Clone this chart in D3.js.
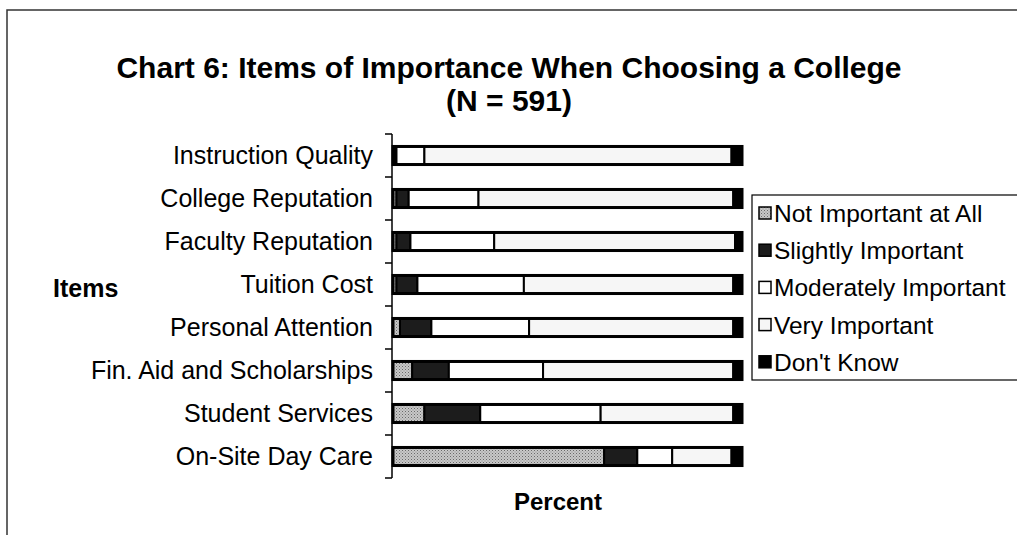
<!DOCTYPE html>
<html>
<head>
<meta charset="utf-8">
<script src="https://cdn.jsdelivr.net/npm/d3@7"></script>
<style>
  body { margin: 0; background: #fff; }
  svg { font-family: "Liberation Sans", Arial, sans-serif; }
</style>
</head>
<body>
<div id="chart"></div>
<script>
// values (percent of respondents)
var categories = ["Instruction Quality", "College Reputation", "Faculty Reputation", "Tuition Cost",
    "Personal Attention", "Fin. Aid and Scholarships", "Student Services", "On-Site Day Care"];
var seriesNames = ["Not Important at All", "Slightly Important", "Moderately Important", "Very Important", "Don't Know"];
var notImportant = [0.5, 1, 1, 1, 2, 5.5, 9, 60.5];
var slightlyImportant = [0.5, 3.5, 4, 6, 9, 10.5, 16, 9.5];
var moderatelyImportant = [8, 20, 24, 30.5, 28, 27, 34.5, 10];
var veryImportant = [88, 73, 69, 60, 58.5, 54.5, 38, 17];
var dontKnow = [3, 2.5, 2, 2.5, 2.5, 2.5, 2.5, 3];

var width = 1017, height = 535;
var keys = ["ni", "si", "mi", "vi", "dk"];
var fills = {ni: "url(#dots)", si: "#1c1c1c", mi: "#ffffff", vi: "#f6f6f6", dk: "#000000"};

var rows = categories.map(function(c, i) {
    return {cat: c, ni: notImportant[i], si: slightlyImportant[i], mi: moderatelyImportant[i],
        vi: veryImportant[i], dk: dontKnow[i]};
});

var svg = d3.select("#chart").append("svg")
    .attr("width", width)
    .attr("height", height);

// dotted grey pattern like the scan
var defs = svg.append("defs");
var pat = defs.append("pattern")
    .attr("id", "dots")
    .attr("width", 3).attr("height", 3)
    .attr("patternUnits", "userSpaceOnUse");
pat.append("rect").attr("width", 3).attr("height", 3).attr("fill", "#c8c8c8");
pat.append("rect").attr("width", 1).attr("height", 1).attr("fill", "#6a6a6a");
pat.append("rect").attr("x", 1.5).attr("y", 1.5).attr("width", 1).attr("height", 1).attr("fill", "#8a8a8a");

// outer frame (top and left edges only visible)
svg.append("path")
    .attr("d", "M7,535 V10 H1017")
    .attr("fill", "none")
    .attr("stroke", "#333")
    .attr("stroke-width", 1.5);

// title
svg.append("text")
    .attr("x", 509).attr("y", 78)
    .attr("text-anchor", "middle")
    .attr("font-size", 30).attr("font-weight", "bold")
    .text("Chart 6: Items of Importance When Choosing a College");
svg.append("text")
    .attr("x", 509).attr("y", 111)
    .attr("text-anchor", "middle")
    .attr("font-size", 30).attr("font-weight", "bold")
    .text("(N = 591)");

var x = d3.scaleLinear().domain([0, 100]).range([393, 742]);
var y = d3.scaleBand().domain(categories).range([134, 478])
    .paddingInner(0.58).paddingOuter(0.29);

var stacked = d3.stack().keys(keys)(rows);

var layers = svg.append("g").attr("class", "bars")
    .selectAll("g")
    .data(stacked)
    .enter().append("g")
    .attr("fill", function(d) { return fills[d.key]; });

layers.selectAll("rect")
    .data(function(d) { return d; })
    .enter().append("rect")
    .attr("x", function(d) { return x(d[0]); })
    .attr("y", function(d) { return y(d.data.cat); })
    .attr("width", function(d) { return x(d[1]) - x(d[0]); })
    .attr("height", y.bandwidth())
    .attr("stroke", "#000")
    .attr("stroke-width", 2);

// outline round each full bar
svg.append("g").selectAll("rect")
    .data(rows)
    .enter().append("rect")
    .attr("x", x(0))
    .attr("y", function(d) { return y(d.cat); })
    .attr("width", x(100) - x(0))
    .attr("height", y.bandwidth())
    .attr("fill", "none")
    .attr("stroke", "#000")
    .attr("stroke-width", 3);

// category axis
var yAxis = svg.append("g")
    .attr("transform", "translate(392,0)")
    .call(d3.axisLeft(y).tickSize(0).tickPadding(19));
yAxis.select(".domain").remove();
yAxis.selectAll("text")
    .attr("font-size", 25)
    .attr("font-family", "Liberation Sans, Arial, sans-serif")
    .attr("fill", "#000");

var axisG = svg.append("g").attr("stroke", "#000").attr("stroke-width", 1.5);
axisG.append("line")
    .attr("x1", 392).attr("x2", 392)
    .attr("y1", y.range()[0]).attr("y2", y.range()[1]);
axisG.selectAll(".tick-b")
    .data(d3.range(categories.length + 1))
    .enter().append("line")
    .attr("x1", 385).attr("x2", 392)
    .attr("y1", function(i) { return y.range()[0] + i * y.step(); })
    .attr("y2", function(i) { return y.range()[0] + i * y.step(); });

// axis titles
svg.append("text")
    .attr("x", 53).attr("y", 297)
    .attr("font-size", 25).attr("font-weight", "bold")
    .text("Items");
svg.append("text")
    .attr("x", 558).attr("y", 510)
    .attr("text-anchor", "middle")
    .attr("font-size", 24).attr("font-weight", "bold")
    .text("Percent");

// legend
var legend = svg.append("g").attr("transform", "translate(752,195)");
legend.append("rect")
    .attr("width", 280).attr("height", 185)
    .attr("fill", "#fff")
    .attr("stroke", "#000")
    .attr("stroke-width", 1.2);

var li = legend.selectAll(".item")
    .data(seriesNames)
    .enter().append("g")
    .attr("class", "item")
    .attr("transform", function(d, i) { return "translate(0," + (18 + i * 37.2) + ")"; });

li.append("rect")
    .attr("x", 7).attr("y", -6)
    .attr("width", 12).attr("height", 12)
    .attr("fill", function(d, i) { return fills[keys[i]]; })
    .attr("stroke", "#000")
    .attr("stroke-width", 1.5);

li.append("text")
    .attr("x", 22).attr("y", 9)
    .attr("font-size", 24.5)
    .text(function(d) { return d; });
</script>
</body>
</html>
